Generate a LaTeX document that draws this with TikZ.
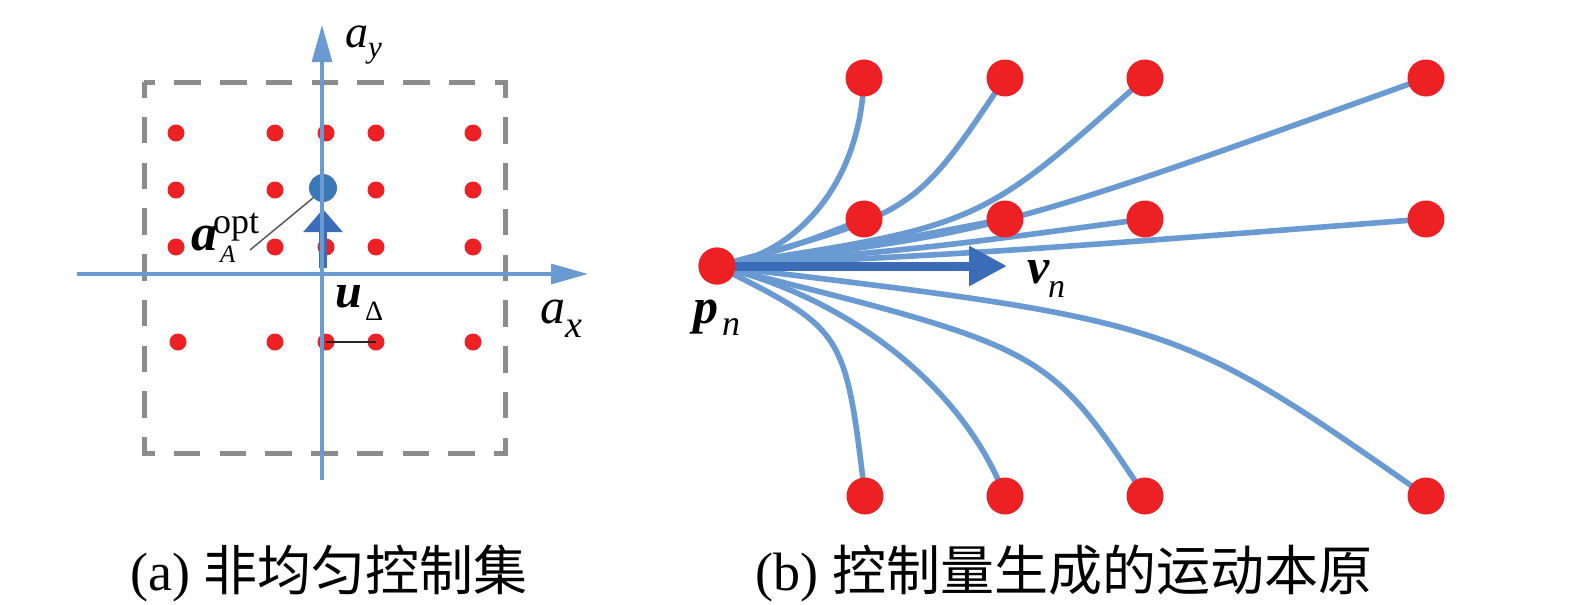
\documentclass[tikz,border=0pt]{standalone}
\usepackage{fontspec}
\setmainfont{Liberation Serif}
\newfontfamily\cjk{Noto Sans CJK SC}
\usetikzlibrary{arrows.meta}
\definecolor{dotred}{HTML}{ED2024}
\definecolor{lblue}{HTML}{6A9AD2}
\definecolor{dblue}{HTML}{3B6CB7}
\definecolor{bdot}{HTML}{3A78B8}
\definecolor{dgray}{HTML}{8C8C8C}
\newcommand\myfs[1]{\fontsize{#1}{#1}\selectfont}
\begin{document}
\begin{tikzpicture}[x=1pt,y=-1pt,
  rdot/.style={circle,fill=dotred,inner sep=0pt,minimum size=17pt},
  bigdot/.style={circle,fill=dotred,inner sep=0pt,minimum size=37pt},
  traj/.style={draw=lblue,line width=5.6pt},
  axis/.style={draw=lblue,line width=3.2pt,-{Triangle[length=37pt,width=20pt]}},
  lbl/.style={inner sep=0pt,anchor=base west},
  ]
\path[use as bounding box] (0,0) rectangle (1575,605);

% ---------- (a) ----------
\draw[dgray,line width=5pt,dash pattern=on 26.5pt off 19.25pt,dash phase=11pt]
  (144,82) rectangle (505,453);

\foreach \n/\x/\y in {11/176/133,12/275/133,13/326/133,14/376/133,15/473/133,
                      21/176/190,22/275/190,24/376/190,25/473/190,
                      31/176/247,32/275/247,33/326/247,34/376/247,35/473/247,
                      41/178/342,42/275/342,43/326/342,44/376/342,45/473/342}
  \node[rdot] (d\n) at (\x,\y) {};

\node[circle,fill=bdot,inner sep=0pt,minimum size=28pt] (opt) at (323,188) {};
\coordinate (ab) at (323,268);
\coordinate (at) at (323,209);
\draw[dblue,line width=8pt,-{Triangle[length=23pt,width=38pt]}] (ab) -- (at);

\coordinate (xs) at (77,274);
\coordinate (xe) at (588,274);
\coordinate (ys) at (322,480);
\coordinate (ye) at (322,25);
\draw[axis] (xs) -- (xe);
\draw[axis] (ys) -- (ye);

\coordinate (al) at (250,250);
\draw[black!65,line width=1.5pt] (al) -- (opt.225);
\draw[black!85,line width=2pt] (d43.center) -- (d44.center);

\node[lbl,font=\myfs{46}] (ay) at (345,47) {\itshape a};
\node[lbl,font=\myfs{31}] (ays) at (368,57) {\itshape y};
\node[lbl,font=\myfs{50}] (ax) at (540,323) {\itshape a};
\node[lbl,font=\myfs{38}] (axs) at (565,337) {\itshape x};
\node[lbl,font=\myfs{48}] (u) at (335,307) {\bfseries\itshape u};
\node[lbl,font=\myfs{28}] (us) at (365,320) {Δ};
\node[lbl,font=\myfs{52}] (aa) at (191,250) {\bfseries\itshape a};
\node[lbl,font=\myfs{36}] (aopt) at (213,233) {opt};
\node[lbl,font=\myfs{25}] (aA) at (220,262) {\itshape A};

% ---------- (b) ----------
\node[bigdot] (p) at (717,266) {};
\coordinate (t1) at (864,78);  \coordinate (t2) at (1005,78);
\coordinate (t3) at (1145,78); \coordinate (t4) at (1426,78);
\coordinate (m1) at (864,219);  \coordinate (m2) at (1005,219);
\coordinate (m3) at (1145,219); \coordinate (m4) at (1426,219);
\coordinate (b1) at (865,496);  \coordinate (b2) at (1005,496);
\coordinate (b3) at (1145,496); \coordinate (b4) at (1426,496);

\draw[traj] (p.center) .. controls (790,258) and (860,190) .. (t1);
\draw[traj] (p.center) .. controls (915,213) .. (t2);
\draw[traj] (p.center) .. controls (980,226) .. (t3);
\draw[traj] (p.center) .. controls (997,232) .. (t4);
\draw[traj] (p.center) .. controls (790,248) .. (m1);
\draw[traj] (p.center) .. controls (860,247) .. (m2);
\draw[traj] (p.center) .. controls (930,248) .. (m3);
\draw[traj] (p.center) .. controls (1000,252) .. (m4);
\draw[traj] (p.center) .. controls (845,330) .. (b1);
\draw[traj] (p.center) .. controls (840,295) and (960,380) .. (b2);
\draw[traj] (p.center) .. controls (1047,348) .. (b3);
\draw[traj] (p.center) .. controls (1176,321) .. (b4);

\coordinate (vt) at (1007,266);
\draw[dblue,line width=9pt,-{Triangle[length=38pt,width=38pt]}] (p.center) -- (vt);

\node[bigdot] (p2) at (p) {};
\foreach \c in {t1,t2,t3,t4,m1,m2,m3,m4,b1,b2,b3,b4}
  \node[bigdot] (n\c) at (\c) {};

\node[lbl,font=\myfs{50}] (pl) at (693,323) {\bfseries\itshape p};
\node[lbl,font=\myfs{36}] (pls) at (722,335) {\itshape n};
\node[lbl,font=\myfs{50}] (vl) at (1027,283) {\bfseries\itshape v};
\node[lbl,font=\myfs{34}] (vls) at (1048,297) {\itshape n};

% ---------- captions ----------
\node[anchor=base,inner sep=0pt,font=\myfs{54}] (capa) at (329,590) {(a) {\cjk 非均匀控制集}};
\node[anchor=base,inner sep=0pt,font=\myfs{54}] (capb) at (1064,590) {(b) {\cjk 控制量生成的运动本原}};
\end{tikzpicture}
\end{document}
